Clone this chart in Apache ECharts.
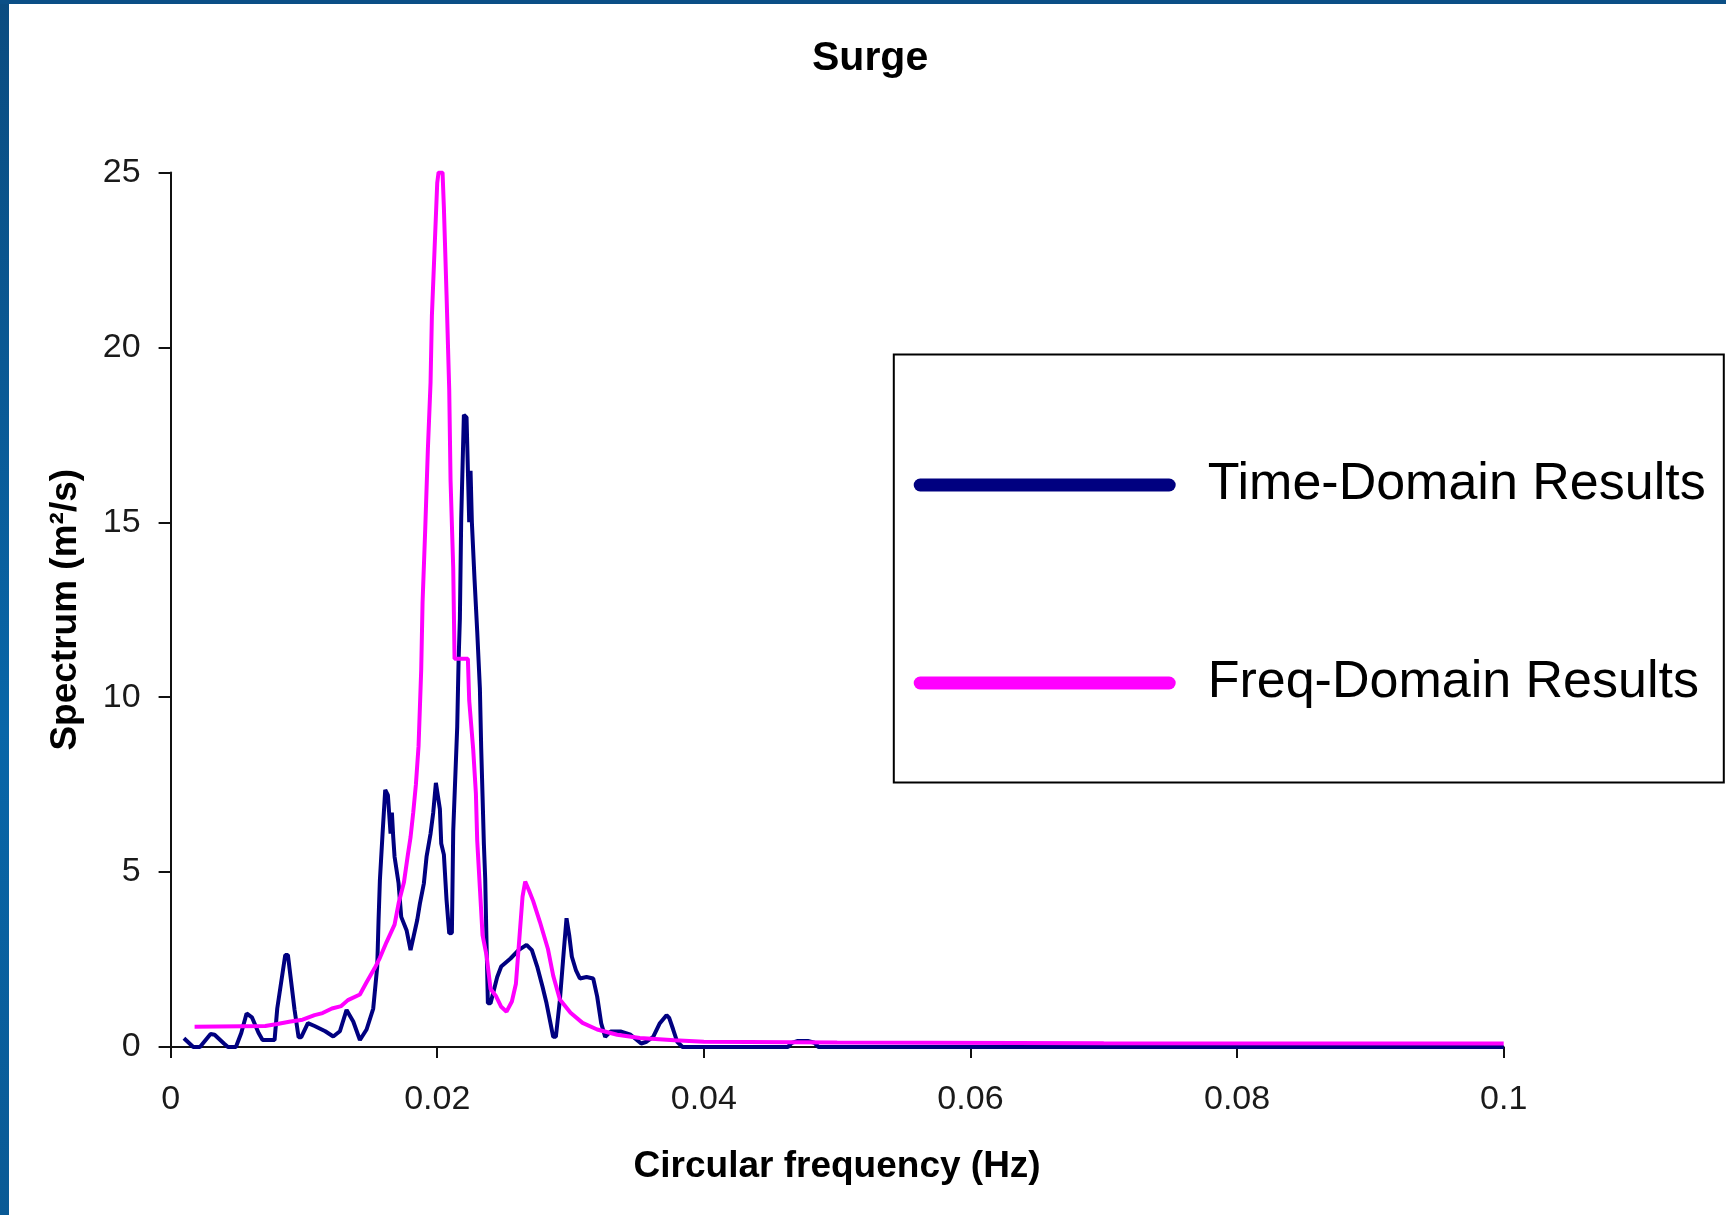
<!DOCTYPE html>
<html>
<head>
<meta charset="utf-8">
<title>Surge</title>
<script src="https://cdn.jsdelivr.net/npm/echarts@6/dist/echarts.min.js"></script>
<style>
  html, body { margin: 0; padding: 0; background: #fff; }
  #chart { position: absolute; left: 0; top: 0; width: 1726px; height: 1215px; }
  /* slide frame: blue strips on the left and top */
  .frame-left { position: absolute; left: 0; top: 0; width: 9px; height: 1215px; z-index: 5;
    background: linear-gradient(to bottom, #0b4c80, #0966a8 60%, #0a5a95); }
  .frame-top { position: absolute; left: 0; top: 0; width: 1726px; height: 4px; z-index: 5;
    background: #0b4f86; }
</style>
</head>
<body>
<div id="chart"></div>
<div class="frame-left"></div>
<div class="frame-top"></div>
<script>
// --- data ---
const seriesNames = ['Time-Domain Results', 'Freq-Domain Results']

// time-domain spectrum: frequency (Hz) and value (m^2/s)
const timeFreq = [
  0.0010, 0.0017, 0.0022, 0.0030, 0.0033, 0.0040, 0.0043, 0.0049, 0.0053, 0.0057,
  0.0061, 0.0066, 0.0069, 0.0078, 0.0080, 0.0086, 0.0088, 0.0090, 0.0093, 0.0096,
  0.0098, 0.0103, 0.0108, 0.0116, 0.0122, 0.0127, 0.0132, 0.0137, 0.0142, 0.0147,
  0.0152, 0.0155, 0.0156, 0.0157, 0.0159, 0.0161, 0.0163, 0.0165, 0.0166, 0.0167,
  0.0168, 0.0171, 0.0173, 0.0177, 0.0180, 0.0181, 0.0185, 0.0187, 0.0190, 0.0192,
  0.0195, 0.0197, 0.0199, 0.0200, 0.0202, 0.0203, 0.0205, 0.0207, 0.0209, 0.0211,
  0.0212, 0.0215, 0.0216, 0.0217, 0.0218, 0.0220, 0.0222, 0.0224, 0.0225, 0.0226,
  0.0228, 0.0230, 0.0232, 0.0233, 0.0234, 0.0235, 0.0236, 0.0237, 0.0238, 0.0240,
  0.0245, 0.0248, 0.0255, 0.0261, 0.0267, 0.0271, 0.0275, 0.0279, 0.0282, 0.0287,
  0.0289, 0.0292, 0.0295, 0.0297, 0.0299, 0.0301, 0.0304, 0.0307, 0.0312, 0.0317,
  0.0320, 0.0323, 0.0326, 0.0330, 0.0338, 0.0345, 0.0353, 0.0357, 0.0362, 0.0367,
  0.0372, 0.0374, 0.0377, 0.0380, 0.0384, 0.0463, 0.0466, 0.0470, 0.0478, 0.0483,
  0.0486, 0.1000
]
const timeSpec = [
  0.25, 0.00, 0.00, 0.37, 0.35, 0.10, 0.00, 0.00, 0.40, 0.96,
  0.85, 0.40, 0.20, 0.20, 1.10, 2.63, 2.63, 2.00, 1.06, 0.28,
  0.28, 0.68, 0.60, 0.45, 0.30, 0.45, 1.06, 0.73, 0.20, 0.50,
  1.10, 2.30, 3.63, 4.77, 6.10, 7.35, 7.20, 6.10, 6.70, 6.00,
  5.44, 4.68, 3.72, 3.34, 2.77, 2.77, 3.63, 4.10, 4.68, 5.44,
  6.10, 6.70, 7.55, 7.50, 6.80, 5.82, 5.50, 4.20, 3.25, 3.26,
  6.17, 9.15, 11.00, 12.25, 15.10, 18.07, 18.00, 15.00, 16.47, 15.00,
  13.36, 11.88, 10.26, 8.53, 7.18, 5.80, 4.81, 2.96, 1.25, 1.25,
  2.00, 2.30, 2.53, 2.77, 2.92, 2.77, 2.30, 1.72, 1.25, 0.29,
  0.29, 1.34, 2.77, 3.68, 3.20, 2.58, 2.20, 1.96, 2.00, 1.96,
  1.44, 0.68, 0.29, 0.44, 0.44, 0.35, 0.10, 0.15, 0.29, 0.68,
  0.91, 0.83, 0.50, 0.15, 0.00, 0.00, 0.12, 0.17, 0.17, 0.12,
  0.00, 0.00
]

// frequency-domain spectrum
const specFreq = [
  0.0018, 0.0071, 0.0080, 0.0090, 0.0099, 0.0108, 0.0114, 0.0121, 0.0128, 0.0133,
  0.0142, 0.0147, 0.0153, 0.0157, 0.0162, 0.0168, 0.0171, 0.0175, 0.0178, 0.0180,
  0.0182, 0.0184, 0.0186, 0.0188, 0.0189, 0.0191, 0.0193, 0.0195, 0.0196, 0.0198,
  0.0200, 0.0201, 0.0204, 0.0205, 0.0206, 0.0207, 0.0208, 0.0209, 0.0210, 0.0212,
  0.0213, 0.0223, 0.0224, 0.0227, 0.0229, 0.0230, 0.0232, 0.0234, 0.0237, 0.0240,
  0.0244, 0.0248, 0.0252, 0.0256, 0.0259, 0.0262, 0.0264, 0.0266, 0.0269, 0.0272,
  0.0277, 0.0283, 0.0287, 0.0292, 0.0300, 0.0309, 0.0320, 0.0335, 0.0352, 0.0378,
  0.0400, 0.0500, 0.0700, 0.1000
]
const specValue = [
  0.58, 0.60, 0.66, 0.73, 0.78, 0.91, 0.97, 1.10, 1.17, 1.34,
  1.50, 1.85, 2.25, 2.55, 3.00, 3.50, 4.10, 4.70, 5.50, 6.00,
  6.70, 7.50, 8.60, 10.80, 12.70, 14.80, 17.10, 19.00, 20.90, 22.80,
  24.70, 25.00, 25.00, 24.00, 24.00, 21.50, 21.50, 18.80, 16.20, 13.70,
  11.10, 11.10, 9.90, 8.50, 7.26, 5.90, 4.55, 3.20, 2.62, 1.66,
  1.46, 1.15, 1.01, 1.30, 1.80, 3.30, 4.30, 4.73, 4.46, 4.17,
  3.58, 2.81, 2.04, 1.36, 0.98, 0.69, 0.50, 0.35, 0.26, 0.19,
  0.15, 0.13, 0.11, 0.10
]

// x/y tick setup
const xTicks = { min: 0, max: 0.1, interval: 0.02 }
const yTicks = { min: 0, max: 25, interval: 5 }

// 图例图标：圆头粗线
const legendIcon = 'path://M6.5,0 L255.5,0 A6.5,6.5 0 0 1 255.5,13 L6.5,13 A6.5,6.5 0 0 1 6.5,0 Z'

const zip = (xs, ys) => xs.map((x, i) => [x, ys[i]])

const chart = echarts.init(document.getElementById('chart'), null, {renderer: 'canvas'})

const makeLegend = (name, color, top) => ({
  data: [{name: name, itemStyle: {color: color, borderWidth: 0}}],
  left: 913.7,
  top: top,
  padding: 0,
  icon: legendIcon,
  itemWidth: 262,
  itemHeight: 13,
  selectedMode: false,
  textStyle: {
    fontFamily: 'Liberation Sans, Arial, sans-serif',
    fontSize: 52,
    color: '#000',
    padding: [0, 0, 0, 27]
  }
})

const option = {
  animation: false,
  backgroundColor: '#fff',
  title: {
    text: 'Surge',
    left: 812,
    top: 38,
    padding: 0,
    textStyle: {
      fontFamily: 'Liberation Sans, Arial, sans-serif',
      fontSize: 41,
      fontWeight: 'bold',
      color: '#000'
    }
  },
  legend: [
    makeLegend(seriesNames[0], '#000080', 459),
    makeLegend(seriesNames[1], '#ff00ff', 657)
  ],
  grid: {left: 170.6, right: 222.3, top: 172.5, bottom: 168, containLabel: false},
  xAxis: {
    type: 'value',
    min: xTicks.min,
    max: xTicks.max,
    interval: xTicks.interval,
    name: 'Circular frequency (Hz)',
    nameLocation: 'middle',
    nameGap: 101,
    nameTextStyle: {
      fontFamily: 'Liberation Sans, Arial, sans-serif',
      fontSize: 37,
      fontWeight: 'bold',
      color: '#000'
    },
    axisLine: {show: true, onZero: false, lineStyle: {color: '#111', width: 2}},
    axisTick: {show: true, inside: false, length: 11, lineStyle: {color: '#111', width: 2}},
    axisLabel: {
      margin: 36,
      fontFamily: 'Liberation Sans, Arial, sans-serif',
      fontSize: 34,
      color: '#1a1a1a'
    },
    splitLine: {show: false}
  },
  yAxis: {
    type: 'value',
    min: yTicks.min,
    max: yTicks.max,
    interval: yTicks.interval,
    name: 'Spectrum (m²/s)',
    nameLocation: 'middle',
    nameGap: 86,
    nameTextStyle: {
      fontFamily: 'Liberation Sans, Arial, sans-serif',
      fontSize: 37,
      fontWeight: 'bold',
      color: '#000'
    },
    axisLine: {show: true, lineStyle: {color: '#111', width: 2}},
    axisTick: {show: true, inside: false, length: 12, lineStyle: {color: '#111', width: 2}},
    axisLabel: {
      margin: 30,
      fontFamily: 'Liberation Sans, Arial, sans-serif',
      fontSize: 34,
      color: '#1a1a1a'
    },
    splitLine: {show: false}
  },
  graphic: [{
    type: 'rect',
    shape: {x: 893.8, y: 354.5, width: 830, height: 428},
    style: {fill: 'none', stroke: '#000', lineWidth: 2},
    z: 10
  }],
  series: [
    {
      name: seriesNames[0],
      type: 'line',
      data: zip(timeFreq, timeSpec),
      showSymbol: false,
      symbol: 'none',
      lineStyle: {color: '#000080', width: 4},
      itemStyle: {color: '#000080'},
      z: 2
    },
    {
      name: seriesNames[1],
      type: 'line',
      data: zip(specFreq, specValue),
      showSymbol: false,
      symbol: 'none',
      lineStyle: {color: '#ff00ff', width: 4},
      itemStyle: {color: '#ff00ff'},
      z: 3
    }
  ]
}

chart.setOption(option)
</script>
</body>
</html>
